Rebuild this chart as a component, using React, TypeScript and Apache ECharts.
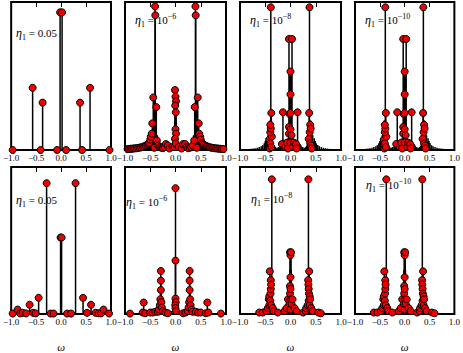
import React, { useEffect, useRef } from "react";
import * as echarts from "echarts";

// ---------- data: [omega, relative height] ----------
const xTickValues = [-1, -0.5, 0, 0.5, 1];
const etaTexts = ["0.05", "10", "10", "10"];
const etaExponents = ["", "−6", "−8", "−10"];

// Row 1 (top)
const a1Points = [
  [-0.97, 0], [-0.57, 0.42], [-0.41, 0], [-0.37, 0.32], [-0.08, 0], [-0.02, 0.93],
  [0.02, 0.93], [0.1, 0], [0.38, 0.32], [0.42, 0], [0.58, 0.42], [0.97, 0],
];
const a1Tail: number[][] = [];

const b1Points = [
  [-0.95, 0.006], [-0.92, 0.007], [-0.89, 0.008], [-0.86, 0.009], [-0.83, 0.01], [-0.8, 0.011],
  [-0.77, 0.012], [-0.74, 0.014], [-0.71, 0.016], [-0.68, 0.018], [-0.65, 0.021], [-0.62, 0.025],
  [-0.59, 0.03], [-0.56, 0.036], [-0.54, 0.042], [-0.52, 0.048], [-0.5, 0.07], [-0.49, 0.09],
  [-0.47, 0.11], [-0.46, 0.18], [-0.44, 0.355], [-0.42, 0.015], [-0.405, 0.97], [-0.4, 0.91],
  [-0.38, 0.29], [-0.37, 0.065], [-0.34, 0.03], [-0.31, 0.02], [-0.28, 0.015], [-0.25, 0.012],
  [-0.22, 0.02], [-0.19, 0.04], [-0.15, 0.03], [-0.12, 0.01], [-0.06, 0.02], [-0.02, 0.02],
  [-0.01, 0.405], [0.0, 0.36], [0.01, 0.33], [-0.005, 0.3], [0.005, 0.255], [0.0, 0.14],
  [0.01, 0.11], [-0.01, 0.075], [0.005, 0.045], [0.06, 0.02], [0.12, 0.01], [0.15, 0.04],
  [0.19, 0.04], [0.22, 0.02], [0.25, 0.012], [0.28, 0.015], [0.31, 0.02], [0.34, 0.03],
  [0.37, 0.065], [0.38, 0.29], [0.395, 0.97], [0.4, 0.91], [0.42, 0.015], [0.44, 0.355],
  [0.46, 0.18], [0.47, 0.11], [0.49, 0.09], [0.5, 0.07], [0.52, 0.048], [0.54, 0.042],
  [0.56, 0.036], [0.59, 0.03], [0.62, 0.025], [0.65, 0.021], [0.68, 0.018], [0.71, 0.016],
  [0.74, 0.014], [0.77, 0.012], [0.8, 0.011], [0.83, 0.01], [0.86, 0.009], [0.89, 0.008],
  [0.92, 0.007], [0.95, 0.006],
];
const b1Tail = [
  [-0.45, 0.2], [-0.43, 0.3], [-0.41, 0.33], [-0.39, 0.3], [-0.36, 0.1], [-0.35, 0.05],
  [-0.2, 0.03], [-0.17, 0.035], [-0.1, 0.03], [-0.08, 0.03], [-0.04, 0.03], [-0.015, 0.2],
  [0.015, 0.2], [0.04, 0.03], [0.08, 0.03], [0.1, 0.03], [0.17, 0.035], [0.2, 0.03],
  [0.35, 0.05], [0.36, 0.1], [0.39, 0.3], [0.41, 0.33], [0.43, 0.3], [0.45, 0.2],
];

const c1Points = [
  [-0.41, 0.01], [-0.42, 0.07], [-0.4, 0.045], [-0.38, 0.02], [-0.37, 0.09], [-0.4, 0.12],
  [-0.39, 0.145], [-0.4, 0.17], [-0.38, 0.25], [-0.39, 0.964], [-0.17, 0.04], [-0.15, 0.255],
  [-0.1, 0.02], [-0.07, 0.05], [-0.05, 0.01], [-0.03, 0.155], [-0.03, 0.11], [-0.02, 0.243],
  [-0.03, 0.75], [0.0, 0.05], [0.0, 0.14], [0.0, 0.25], [0.0, 0.376], [0.0, 0.53],
  [0.02, 0.1], [0.03, 0.75], [0.05, 0.02], [0.07, 0.05], [0.11, 0.04], [0.12, 0.01],
  [0.14, 0.255], [0.36, 0.075], [0.37, 0.25], [0.376, 0.964], [0.38, 0.12], [0.39, 0.045],
  [0.39, 0.17], [0.4, 0.145], [0.41, 0.03], [0.42, 0.01],
];
const c1Tail = [
  [-0.98, 0.003], [-0.94, 0.004], [-0.9, 0.005], [-0.86, 0.006], [-0.82, 0.007], [-0.78, 0.008],
  [-0.74, 0.01], [-0.7, 0.012], [-0.66, 0.015], [-0.62, 0.02], [-0.58, 0.026], [-0.55, 0.033],
  [-0.52, 0.045], [-0.5, 0.06], [-0.48, 0.08], [-0.45, 0.1], [-0.43, 0.15], [-0.41, 0.2],
  [-0.36, 0.06], [-0.34, 0.04], [-0.32, 0.03], [-0.3, 0.02], [-0.27, 0.015], [-0.24, 0.02],
  [-0.21, 0.03], [-0.19, 0.04], [-0.13, 0.05], [-0.11, 0.04], [-0.08, 0.06], [-0.05, 0.08],
  [-0.015, 0.5], [-0.01, 0.45], [0.01, 0.45], [0.015, 0.5], [0.05, 0.08], [0.08, 0.06],
  [0.11, 0.04], [0.13, 0.05], [0.19, 0.04], [0.21, 0.03], [0.24, 0.02], [0.27, 0.015],
  [0.3, 0.02], [0.32, 0.03], [0.34, 0.04], [0.35, 0.06], [0.4, 0.2], [0.42, 0.15],
  [0.44, 0.1], [0.47, 0.08], [0.49, 0.06], [0.51, 0.045], [0.54, 0.033], [0.57, 0.026],
  [0.61, 0.02], [0.65, 0.015], [0.69, 0.012], [0.73, 0.01], [0.77, 0.008], [0.81, 0.007],
  [0.85, 0.006], [0.89, 0.005], [0.93, 0.004], [0.97, 0.003],
];
const d1Points = c1Points;
const d1Tail = c1Tail;

// Row 2 (bottom)
const a2Points = [
  [-0.97, 0.003], [-0.87, 0.03], [-0.82, 0.004], [-0.77, 0.008], [-0.7, 0.004], [-0.63, 0.063],
  [-0.56, 0.008], [-0.51, 0.004], [-0.45, 0.11], [-0.29, 0.89], [-0.21, 0.003], [-0.15, 0.003],
  [-0.01, 0.52], [0.01, 0.52], [0.12, 0.003], [0.2, 0.003], [0.29, 0.89], [0.44, 0.11],
  [0.52, 0.008], [0.6, 0.063], [0.69, 0.008], [0.75, 0.005], [0.8, 0.004], [0.85, 0.03],
  [0.96, 0.003],
];
const a2Tail: number[][] = [];

const b2Points = [
  [-0.9, 0.003], [-0.65, 0.01], [-0.63, 0.078], [-0.6, 0.005], [-0.5, 0.01], [-0.45, 0.01],
  [-0.4, 0.015], [-0.35, 0.015], [-0.33, 0.03], [-0.31, 0.06], [-0.3, 0.1], [-0.29, 0.163],
  [-0.29, 0.227], [-0.29, 0.293], [-0.28, 0.08], [-0.27, 0.045], [-0.25, 0.02], [-0.2, 0.01],
  [-0.15, 0.005], [0.0, 0.856], [0.0, 0.363], [0.0, 0.105], [0.005, 0.08], [-0.005, 0.06],
  [0.0, 0.04], [0.01, 0.02], [0.15, 0.005], [0.2, 0.01], [0.24, 0.02], [0.26, 0.045],
  [0.27, 0.08], [0.28, 0.293], [0.28, 0.227], [0.28, 0.163], [0.29, 0.1], [0.3, 0.06],
  [0.32, 0.03], [0.34, 0.015], [0.4, 0.015], [0.45, 0.01], [0.5, 0.01], [0.6, 0.005],
  [0.63, 0.078], [0.65, 0.01], [0.9, 0.003],
];
const b2Tail = [
  [-0.95, 0.003], [-0.85, 0.004], [-0.75, 0.006], [-0.68, 0.008], [-0.58, 0.01], [-0.52, 0.012],
  [-0.46, 0.016], [-0.42, 0.022], [-0.38, 0.03], [-0.36, 0.04], [-0.34, 0.06], [-0.32, 0.09],
  [-0.3, 0.14], [-0.28, 0.12], [-0.26, 0.07], [-0.24, 0.045], [-0.22, 0.03], [-0.18, 0.02],
  [-0.12, 0.015], [-0.08, 0.02], [-0.04, 0.03], [-0.015, 0.1], [0.015, 0.1], [0.04, 0.03],
  [0.08, 0.02], [0.12, 0.015], [0.18, 0.02], [0.22, 0.03], [0.24, 0.045], [0.26, 0.07],
  [0.27, 0.12], [0.29, 0.14], [0.31, 0.09], [0.33, 0.06], [0.35, 0.04], [0.37, 0.03],
  [0.41, 0.022], [0.45, 0.016], [0.51, 0.012], [0.57, 0.01], [0.67, 0.008], [0.75, 0.006],
  [0.85, 0.004], [0.95, 0.003],
];

const c2Points = [
  [-0.62, 0.01], [-0.55, 0.01], [-0.48, 0.02], [-0.45, 0.04], [-0.43, 0.1], [-0.42, 0.12],
  [-0.42, 0.06], [-0.41, 0.29], [-0.4, 0.09], [-0.395, 0.14], [-0.39, 0.17], [-0.39, 0.23],
  [-0.385, 0.2], [-0.38, 0.06], [-0.37, 0.916], [-0.35, 0.04], [-0.33, 0.02], [-0.25, 0.01],
  [-0.12, 0.02], [-0.08, 0.04], [-0.05, 0.1], [-0.02, 0.07], [-0.01, 0.42], [-0.01, 0.19],
  [-0.01, 0.14], [0.0, 0.4], [0.0, 0.25], [0.0, 0.17], [0.0, 0.03], [0.01, 0.42],
  [0.01, 0.1], [0.02, 0.07], [0.04, 0.1], [0.08, 0.04], [0.12, 0.02], [0.25, 0.01],
  [0.3, 0.02], [0.31, 0.04], [0.34, 0.06], [0.35, 0.23], [0.355, 0.916], [0.355, 0.2],
  [0.36, 0.17], [0.36, 0.09], [0.365, 0.14], [0.37, 0.29], [0.38, 0.12], [0.38, 0.06],
  [0.39, 0.1], [0.41, 0.04], [0.44, 0.02], [0.55, 0.01], [0.6, 0.005],
];
const c2Tail = [
  [-0.98, 0.002], [-0.9, 0.003], [-0.82, 0.004], [-0.74, 0.006], [-0.68, 0.008], [-0.6, 0.012],
  [-0.54, 0.02], [-0.5, 0.03], [-0.47, 0.05], [-0.44, 0.08], [-0.4, 0.25], [-0.38, 0.2],
  [-0.36, 0.08], [-0.34, 0.05], [-0.31, 0.03], [-0.28, 0.02], [-0.22, 0.015], [-0.17, 0.02],
  [-0.14, 0.03], [-0.1, 0.04], [-0.06, 0.06], [-0.03, 0.1], [-0.015, 0.3], [0.015, 0.3],
  [0.03, 0.1], [0.06, 0.06], [0.1, 0.04], [0.14, 0.03], [0.17, 0.02], [0.22, 0.015],
  [0.27, 0.02], [0.3, 0.03], [0.33, 0.05], [0.35, 0.08], [0.37, 0.2], [0.39, 0.25],
  [0.42, 0.08], [0.45, 0.05], [0.48, 0.03], [0.52, 0.02], [0.58, 0.012], [0.66, 0.008],
  [0.72, 0.006], [0.8, 0.004], [0.88, 0.003], [0.96, 0.002],
];
const d2Points = c2Points;
const d2Tail = c2Tail;

const panelPoints = [a1Points, b1Points, c1Points, d1Points, a2Points, b2Points, c2Points, d2Points];
const panelTails = [a1Tail, b1Tail, c1Tail, d1Tail, a2Tail, b2Tail, c2Tail, d2Tail];

// ---------- layout ----------
const colLeft = [10, 125, 240, 355];
const panelW = 101;
const rowTop = [2, 167];
const rowH = [148, 150];
const labelPos = [
  [16, 33], [135, 20], [250, 20], [365, 20],
  [16, 200], [126, 202], [251, 199], [366, 185],
];

const SERIF = "'Liberation Serif', 'DejaVu Serif', serif";

export default function App() {
  const ref = useRef<HTMLDivElement>(null);
  useEffect(() => {
    if (!ref.current) return;
    const chart = echarts.init(ref.current, undefined, { renderer: "svg" });
    const grid: any[] = [];
    const xAxis: any[] = [];
    const yAxis: any[] = [];
    const series: any[] = [];
    const graphic: any[] = [];
    for (let i = 0; i < 8; i++) {
      const r = Math.floor(i / 4);
      const c = i % 4;
      grid.push({
        left: colLeft[c], top: rowTop[r], width: panelW, height: rowH[r],
        show: true, borderColor: "#000", borderWidth: 2, backgroundColor: "transparent",
      });
      xAxis.push({
        type: "value", gridIndex: i, min: -1, max: 1, interval: 0.5,
        axisLine: { show: false }, axisTick: { show: false }, splitLine: { show: false },
        axisLabel: {
          show: true, margin: 3, fontSize: 9, color: "#000", fontFamily: SERIF,
          formatter: (v: number) => (v < 0 ? "−" : "") + Math.abs(v).toFixed(1),
        },
        name: r === 1 ? "ω" : "", nameLocation: "middle", nameGap: 27,
        nameTextStyle: { fontFamily: SERIF, fontStyle: "italic", fontSize: 11, color: "#000" },
      });
      xAxis.push({
        type: "value", gridIndex: i, min: -1, max: 1, interval: 0.5, position: "top",
        axisLine: { show: false }, splitLine: { show: false }, axisLabel: { show: false },
        axisTick: { show: true, inside: true, length: 5, lineStyle: { color: "#000", width: 1 } },
      });
      yAxis.push({
        type: "value", gridIndex: i, min: 0, max: 1, show: false, splitLine: { show: false },
      });
      const stemItem = (params: any, api: any) => {
        const top = api.coord([api.value(0), api.value(1)]);
        const base = api.coord([api.value(0), 0]);
        return {
          type: "line",
          shape: { x1: top[0], y1: top[1], x2: base[0], y2: base[1] },
          style: { stroke: "#000", lineWidth: 1.5 },
        };
      };
      series.push({
        type: "custom", xAxisIndex: 2 * i, yAxisIndex: i, data: panelTails[i],
        renderItem: stemItem, encode: { x: 0, y: 1 }, clip: true, z: 1, silent: true,
      });
      series.push({
        type: "custom", xAxisIndex: 2 * i, yAxisIndex: i, data: panelPoints[i],
        renderItem: stemItem, encode: { x: 0, y: 1 }, clip: true, z: 2, silent: true,
      });
      series.push({
        type: "scatter", xAxisIndex: 2 * i, yAxisIndex: i, data: panelPoints[i],
        symbol: "circle", symbolSize: 7, clip: true, z: 3, silent: true,
        itemStyle: { color: "#ee0000", borderColor: "#000", borderWidth: 1, opacity: 1 },
      });
      const exp = etaExponents[c];
      graphic.push({
        type: "text", x: labelPos[i][0], y: labelPos[i][1], z: 10,
        style: {
          text: "{e|η}{s|1}{n| = " + etaTexts[c] + "}" + (exp ? "{p|" + exp + "}" : ""),
          verticalAlign: "middle",
          fill: "#000",
          rich: {
            e: { fontFamily: SERIF, fontStyle: "italic", fontSize: 12, lineHeight: 16, verticalAlign: "middle" },
            s: { fontFamily: SERIF, fontSize: 8, lineHeight: 16, verticalAlign: "bottom" },
            n: { fontFamily: SERIF, fontSize: 11, lineHeight: 16, verticalAlign: "middle" },
            p: { fontFamily: SERIF, fontSize: 8, lineHeight: 16, verticalAlign: "top" },
          },
        },
      });
    }
    chart.setOption({ animation: false, grid, xAxis, yAxis, series, graphic });
    return () => chart.dispose();
  }, []);
  return (
    <div
      ref={ref}
      style={{ position: "fixed", left: 0, top: 0, width: 463, height: 353, background: "#fff" }}
    />
  );
}
